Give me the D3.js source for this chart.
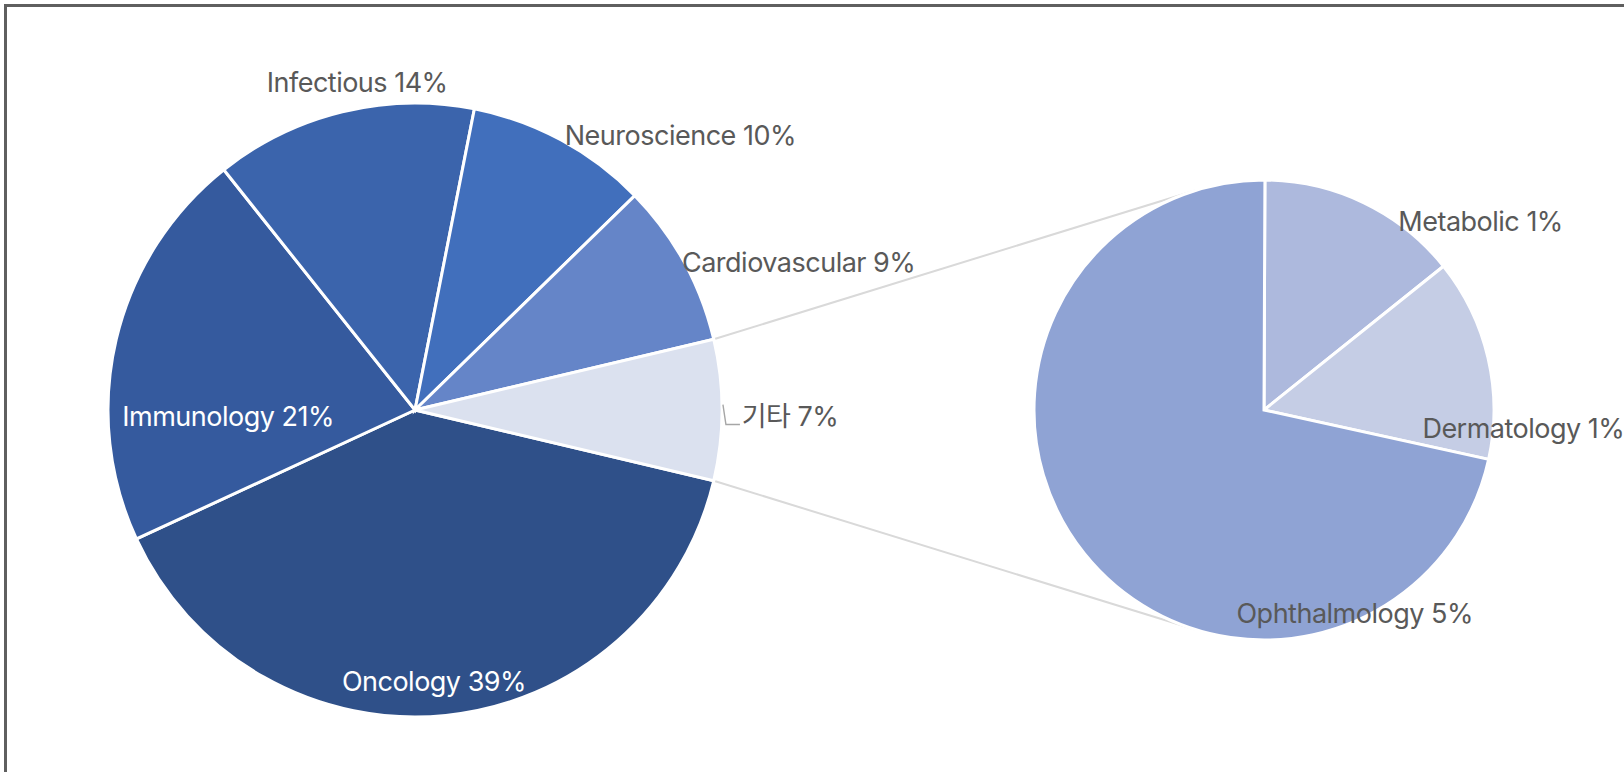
<!DOCTYPE html>
<html>
<head>
<meta charset="utf-8">
<script src="https://cdn.jsdelivr.net/npm/d3@7"></script>
<style>
  html, body { margin: 0; padding: 0; background: #fff; }
  svg { display: block; }
</style>
</head>
<body>
<svg id="chart"></svg>
<script>
const width = 1624,
  height = 772;

// main pie (percent of total)
const mainNames = ["Oncology", "Immunology", "Infectious", "Neuroscience", "Cardiovascular", "기타"];
const mainValues = [39.4, 21.2, 13.8, 9.6, 8.6, 7.4];
const mainColors = ["#2f5089", "#355a9e", "#3b64ac", "#416fbc", "#6585c8", "#dbe1ef"];

// breakdown of "기타"
const subNames = ["Metabolic", "Dermatology", "Ophthalmology"];
const subValues = [1.05, 1.05, 5.3];
const subColors = ["#adb9dd", "#c5cde5", "#8fa3d4"];

// label placement: [angle in degrees (d3, 0 = top), distance from centre]
const mainLabelPos = [[176, 272], [268, 187], [350, 333], [44, 382], [69, 411], [91, 375]];
const subLabelPos = [[49, 287], [94, 260], [156, 223]];

const svg = d3.select("#chart").attr("width", width).attr("height", height);

// frame
svg.append("rect")
  .attr("x", 5.5).attr("y", 5.5)
  .attr("width", width + 20).attr("height", height + 20)
  .attr("fill", "none")
  .attr("stroke", "#5f5f5f")
  .attr("stroke-width", 3);

const main = { cx: 415, cy: 410, r: 307 };
const sub = { cx: 1264, cy: 410, r: 230 };

const total = d3.sum(mainValues);
const other = mainValues[mainValues.length - 1];
const start = Math.PI / 2 + (other / total) * Math.PI;

const mainArcs = d3.pie().sort(null)
  .startAngle(start).endAngle(start + 2 * Math.PI)(mainValues);
const subArcs = d3.pie().sort(null)
  .startAngle(0.004).endAngle(2 * Math.PI + 0.004)(subValues);

// connector lines: tangents from the split slice edges to the small pie
const otherArc = mainArcs[mainArcs.length - 1];
function edgePoint(a) {
  return [main.cx + main.r * Math.sin(a), main.cy - main.r * Math.cos(a)];
}
function tangent(p, upper) {
  const dx = sub.cx - p[0], dy = sub.cy - p[1];
  const d = Math.hypot(dx, dy);
  const base = Math.atan2(dy, dx);
  const half = Math.asin(sub.r / d);
  const ang = upper ? base - half : base + half;
  const len = Math.sqrt(d * d - sub.r * sub.r);
  return [p[0] + len * Math.cos(ang), p[1] + len * Math.sin(ang)];
}
const pTop = edgePoint(otherArc.startAngle),
  pBot = edgePoint(otherArc.endAngle);
[[pTop, tangent(pTop, true)], [pBot, tangent(pBot, false)]].forEach(([a, b]) => {
  svg.append("line")
    .attr("x1", a[0]).attr("y1", a[1])
    .attr("x2", b[0]).attr("y2", b[1])
    .attr("stroke", "#d9d9d9")
    .attr("stroke-width", 2);
});

const arcMain = d3.arc().innerRadius(0).outerRadius(main.r);
const arcSub = d3.arc().innerRadius(0).outerRadius(sub.r);

const gMain = svg.append("g").attr("transform", `translate(${main.cx},${main.cy})`);
gMain.selectAll("path")
  .data(mainArcs)
  .join("path")
  .attr("d", arcMain)
  .attr("fill", (d, i) => mainColors[i])
  .attr("stroke", "#fff")
  .attr("stroke-width", 3);

const gSub = svg.append("g").attr("transform", `translate(${sub.cx},${sub.cy})`);
gSub.selectAll("path")
  .data(subArcs)
  .join("path")
  .attr("d", arcSub)
  .attr("fill", (d, i) => subColors[i])
  .attr("stroke", "#fff")
  .attr("stroke-width", 3);

function polar(p) {
  const a = (p[0] * Math.PI) / 180;
  return [p[1] * Math.sin(a), -p[1] * Math.cos(a)];
}

const font = "Inter, 'Noto Sans CJK KR', sans-serif";
const fontSize = 27;

gMain.selectAll("text")
  .data(mainArcs)
  .join("text")
  .attr("x", (d, i) => polar(mainLabelPos[i])[0])
  .attr("y", (d, i) => polar(mainLabelPos[i])[1])
  .attr("text-anchor", "middle")
  .attr("dominant-baseline", "central")
  .attr("font-family", font)
  .attr("font-size", fontSize)
  .attr("letter-spacing", -0.5)
  .attr("fill", (d, i) => (i < 2 ? "#ffffff" : "#595959"))
  .text((d, i) => `${mainNames[i]} ${Math.round(mainValues[i])}%`);

// small leader for the "기타" label
const op = polar(mainLabelPos[mainLabelPos.length - 1]);
gMain.append("path")
  .attr("d", `M${op[0] - 67},${op[1] - 12} L${op[0] - 64},${op[1] + 8} L${op[0] - 50},${op[1] + 8}`)
  .attr("fill", "none")
  .attr("stroke", "#a6a6a6")
  .attr("stroke-width", 1.4);

gSub.selectAll("text")
  .data(subArcs)
  .join("text")
  .attr("x", (d, i) => polar(subLabelPos[i])[0])
  .attr("y", (d, i) => polar(subLabelPos[i])[1])
  .attr("text-anchor", "middle")
  .attr("dominant-baseline", "central")
  .attr("font-family", font)
  .attr("font-size", fontSize)
  .attr("letter-spacing", -0.5)
  .attr("fill", "#595959")
  .text((d, i) => `${subNames[i]} ${Math.round(subValues[i])}%`);
</script>
</body>
</html>
